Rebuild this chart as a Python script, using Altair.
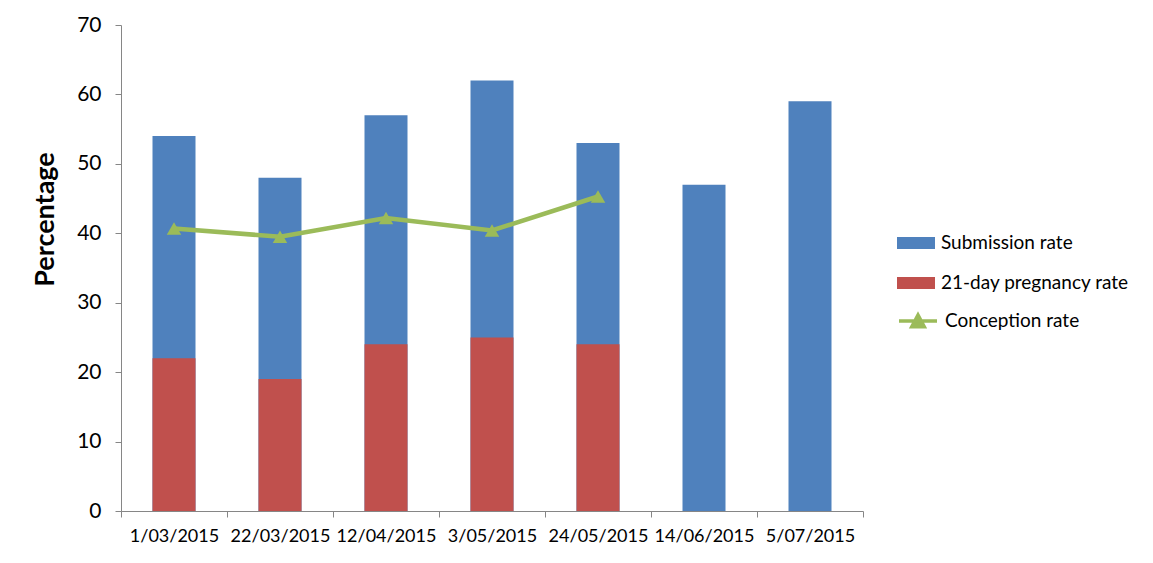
import altair as alt
import pandas as pd

dates = ["1/03/2015", "22/03/2015", "12/04/2015", "3/05/2015", "24/05/2015", "14/06/2015", "5/07/2015"]
submission = [54, 48, 57, 62, 53, 47, 59]
pregnancy = [22, 19, 24, 25, 24, None, None]
conception = [40.7, 39.5, 42.2, 40.4, 45.3, None, None]

FONT = "Lato"
BLUE, RED, GREEN = "#4F81BD", "#C0504D", "#9BBB59"

rows = []
for d, s, p in zip(dates, submission, pregnancy):
    rows.append({"date": d, "series": "Submission rate", "value": s})
    if p is not None:
        rows.append({"date": d, "series": "21-day pregnancy rate", "value": p})
bars_df = pd.DataFrame(rows)
line_df = pd.DataFrame({"date": dates, "series": "Conception rate", "value": conception}).dropna()

xsort = dates
x = alt.X("date:N", sort=xsort, scale=alt.Scale(paddingInner=0, paddingOuter=0),
          axis=alt.Axis(title=None, ticks=True, tickBand="extent", tickSize=6, tickColor="#868686",
                        labelAngle=0, labelFontSize=18, labelFont=FONT,
                        labelColor="#000000", labelPadding=10, domainColor="#868686", domainWidth=1))
y = alt.Y("value:Q", scale=alt.Scale(domain=[0, 70], nice=False),
          axis=alt.Axis(title="Percentage", values=list(range(0, 71, 10)), grid=False,
                        labelFontSize=21, labelFont=FONT, labelColor="#000000", labelPadding=14,
                        tickSize=6, tickColor="#868686", domainColor="#868686",
                        titleFontSize=27, titleFont=FONT, titleFontWeight="bold", titleColor="#000000",
                        titleX=-76, titleY=194, titleAngle=-90, titleAlign="center", titleBaseline="middle"))

bar_legend = alt.Legend(title=None, orient="none", legendX=776, legendY=199,
                        symbolType="M-1,-0.32H1V0.32H-1Z", symbolSize=1444, symbolStrokeWidth=0,
                        labelFont=FONT, labelFontSize=19, labelColor="#000000", rowPadding=11,
                        labelOffset=6, padding=0, labelLimit=300)
bars = alt.Chart(bars_df).mark_bar(size=43).encode(
    x=x,
    y=y.stack(None),
    color=alt.Color("series:N", scale=alt.Scale(domain=["Submission rate", "21-day pregnancy rate"],
                                                   range=[BLUE, RED]), legend=bar_legend),
)

line_legend = alt.Legend(title=None, orient="none", legendX=776, legendY=275,
                         symbolType="M-1,0H1M-0.33,0.3L0,-0.32L0.33,0.3Z", symbolSize=1444,
                         symbolStrokeWidth=3.5, symbolFillColor=GREEN, symbolStrokeColor=GREEN,
                         labelFont=FONT, labelFontSize=19, labelColor="#000000",
                         labelOffset=6, padding=0, labelLimit=300)
line = alt.Chart(line_df).mark_line(strokeWidth=4.5).encode(
    x=alt.X("date:N", sort=xsort),
    y=alt.Y("value:Q"),
    color=alt.Color("series:N", scale=alt.Scale(domain=["Conception rate"], range=[GREEN]), legend=line_legend),
)
pts = alt.Chart(line_df).mark_point(shape="triangle-up", filled=True, size=210, opacity=1).encode(
    x=alt.X("date:N", sort=xsort),
    y=alt.Y("value:Q"),
    color=alt.Color("series:N", scale=alt.Scale(domain=["Conception rate"], range=[GREEN]), legend=None),
)

chart = alt.layer(bars, line, pts).resolve_scale(color="independent").properties(
    width=742, height=486,
    autosize=alt.AutoSizeParams(type="none"),
    padding={"left": 113, "top": 17, "right": 280, "bottom": 45},
    background="#FFFFFF",
).configure_view(stroke=None)

chart.save("out.html", embed_options={"renderer": "svg", "actions": False})
